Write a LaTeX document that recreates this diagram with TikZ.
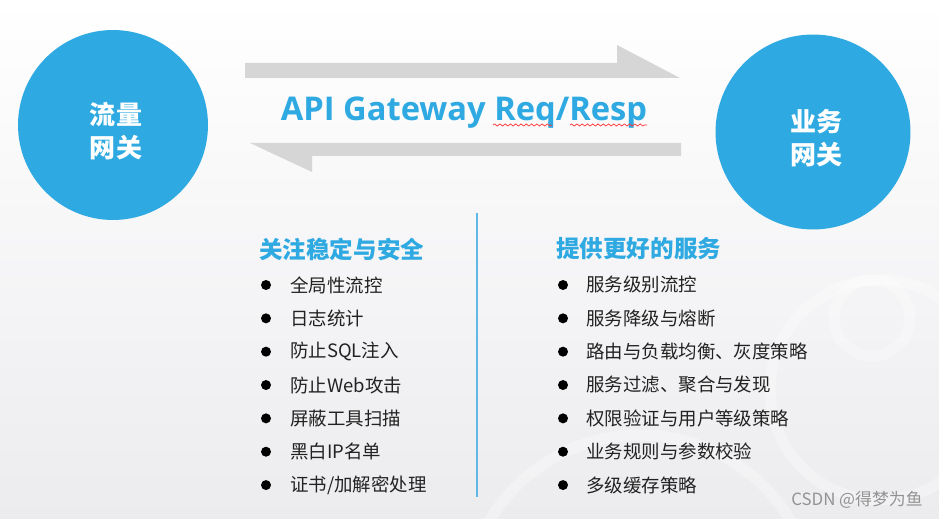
\documentclass[tikz,border=0pt]{standalone}
\usepackage{fontspec}
\setmainfont{Noto Sans CJK SC}
\newfontfamily\titlefont{Open Sans}
\usepackage{xcolor}
\usetikzlibrary{positioning,decorations.pathmorphing}
\definecolor{gwblue}{RGB}{46,169,225}
\definecolor{arrowgray}{RGB}{214,214,214}
\definecolor{textgray}{RGB}{34,34,34}
\definecolor{bgbot}{RGB}{236,236,239}
\definecolor{divblue}{RGB}{96,184,230}
\tikzset{%
	gateway/.style  = {circle, fill=gwblue, inner sep=0pt}, % Gateway
	gwtext/.style   = {text=white, align=center, inner sep=0pt, font=\fontsize{14.8}{18.8}\selectfont\bfseries}, % Gateway name
	title/.style    = {text=gwblue, inner sep=0pt, font=\titlefont\fontsize{18.6}{22}\selectfont\bfseries}, % Title
	heading/.style  = {text=gwblue, inner sep=0pt, font=\fontsize{13.4}{16}\selectfont\bfseries}, % Heading
	item/.style     = {text=textgray, inner sep=0pt, anchor=west, font=\fontsize{10.5}{13}\selectfont}, % List item
	dot/.style      = {circle, fill=black, inner sep=0pt, minimum size=0.2cm}, % Bullet
	squiggle/.style = {red!80!white, line width=0.4pt, decorate, decoration={snake, segment length=3pt, amplitude=0.6pt}},
	divider/.style  = {divblue, line width=0.9pt},
	ring/.style     = {draw=white, line width=0.22cm, opacity=0.3},
}

\begin{document}
\begin{tikzpicture}[x=0.02cm, y=-0.02cm, node distance=0.667cm, on grid]
	% background
	\fill[top color=white, bottom color=bgbot] (0,0) rectangle (939,519);
	\useasboundingbox (0,0) rectangle (939,519);
	\draw[ring] (880,390) circle (110);
	\draw[ring] (872,318) circle (38);
	\draw[ring] (640,610) circle (175);

	\node[gateway, minimum size=3.8cm] (flow) at (113,125) {};
	\node[gateway, minimum size=3.9cm] (biz) at (813,132) {};
	\node[gwtext] (flowt) at (116,131) {流量\\网关};
	\node[gwtext] (bizt) at (816,138) {业务\\网关};

	% req / resp arrows
	\fill[arrowgray] (245,63) -- (617,63) -- (617,45) -- (680,78) -- (245,78) -- cycle;
	\fill[arrowgray] (681,143) -- (250,143) -- (312,172) -- (312,156) -- (681,156) -- cycle;
	\node[title, anchor=base] (api) at (464,121) {API Gateway Req/Resp};
	\draw[squiggle] (493,125) -- (552,125);
	\draw[squiggle] (570,125) -- (647,125);

	\draw[divider] (477,213) -- (477,497);

	% left list
	\node[heading, anchor=west] (hl) at (259,249) {关注稳定与安全};
	\node[dot] (l1) at (266,285) {};
	\node[dot, below=of l1] (l2) {};
	\node[dot, below=of l2] (l3) {};
	\node[dot, below=of l3] (l4) {};
	\node[dot, below=of l4] (l5) {};
	\node[dot, below=of l5] (l6) {};
	\node[dot, below=of l6] (l7) {};
	\node[item, right=0.48cm of l1, anchor=west] (tl1) {全局性流控};
	\node[item, right=0.48cm of l2, anchor=west] (tl2) {日志统计};
	\node[item, right=0.48cm of l3, anchor=west] (tl3) {防止SQL注入};
	\node[item, right=0.48cm of l4, anchor=west] (tl4) {防止Web攻击};
	\node[item, right=0.48cm of l5, anchor=west] (tl5) {屏蔽工具扫描};
	\node[item, right=0.48cm of l6, anchor=west] (tl6) {黑白IP名单};
	\node[item, right=0.48cm of l7, anchor=west] (tl7) {证书/加解密处理};

	% right list
	\node[heading, anchor=west] (hr) at (556,249) {提供更好的服务};
	\node[dot] (r1) at (563,285) {};
	\node[dot, below=of r1] (r2) {};
	\node[dot, below=of r2] (r3) {};
	\node[dot, below=of r3] (r4) {};
	\node[dot, below=of r4] (r5) {};
	\node[dot, below=of r5] (r6) {};
	\node[dot, below=of r6] (r7) {};
	\node[item, right=0.46cm of r1, anchor=west] (tr1) {服务级别流控};
	\node[item, right=0.46cm of r2, anchor=west] (tr2) {服务降级与熔断};
	\node[item, right=0.46cm of r3, anchor=west] (tr3) {路由与负载均衡、灰度策略};
	\node[item, right=0.46cm of r4, anchor=west] (tr4) {服务过滤、聚合与发现};
	\node[item, right=0.46cm of r5, anchor=west] (tr5) {权限验证与用户等级策略};
	\node[item, right=0.46cm of r6, anchor=west] (tr6) {业务规则与参数校验};
	\node[item, right=0.46cm of r7, anchor=west] (tr7) {多级缓存策略};

	\node[text=gray!85, inner sep=0pt, anchor=east, font=\fontsize{9.6}{11}\selectfont] (mark) at (923,500) {CSDN @得梦为鱼};
\end{tikzpicture}
\end{document}
